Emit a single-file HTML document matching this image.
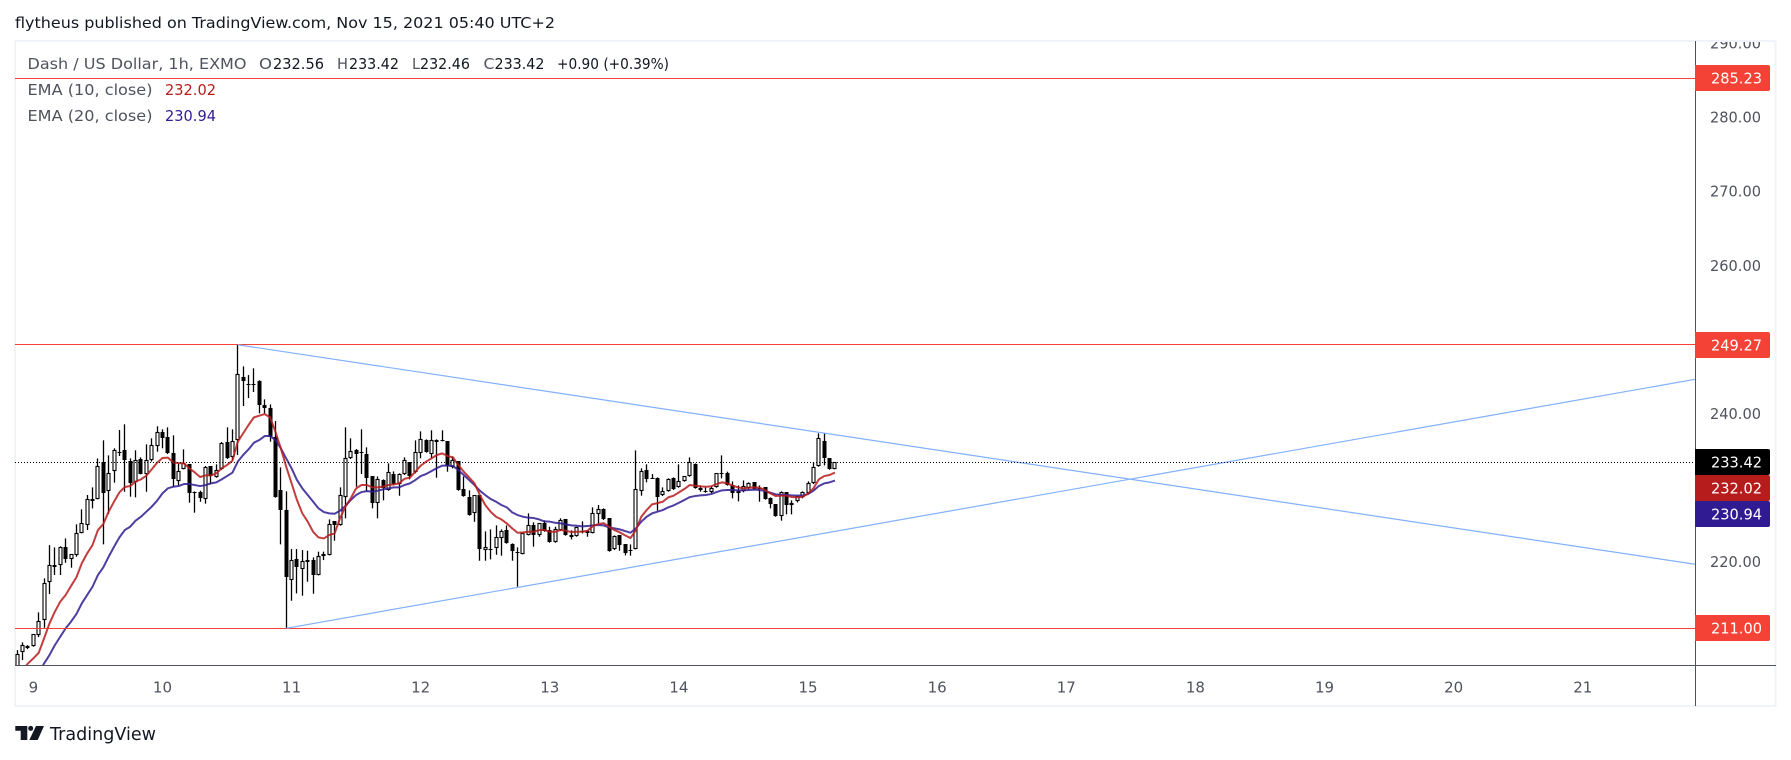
<!DOCTYPE html>
<html lang="en">
<head>
<meta charset="utf-8">
<title>Dash / US Dollar chart</title>
<style>
html,body{margin:0;padding:0;background:#fff;width:1791px;height:760px;overflow:hidden}
svg{display:block}
text{font-family:"DejaVu Sans","Liberation Sans",sans-serif}
</style>
</head>
<body>
<svg id="chart" width="1791" height="760" viewBox="0 0 1791 760" xmlns="http://www.w3.org/2000/svg">
  <defs>
    <clipPath id="plot-clip"><rect x="15" y="42" width="1680" height="623"></rect></clipPath>
    <clipPath id="axis-clip"><rect x="1696" y="42" width="79" height="623"></rect></clipPath>
  </defs>
  <rect x="0" y="0" width="1791" height="760" fill="#ffffff"></rect>
  <text x="15" y="28" font-size="15" fill="#131722" textLength="540" lengthAdjust="spacingAndGlyphs">flytheus published on TradingView.com, Nov 15, 2021 05:40 UTC+2</text>
  <rect x="15" y="41" width="1760.5" height="665" fill="none" stroke="#f0f3fa" stroke-width="2"></rect>
  <g id="plot" clip-path="url(#plot-clip)"></g>
  <g id="axis-ticks" clip-path="url(#axis-clip)"></g>
  <line x1="15" y1="665.5" x2="1776" y2="665.5" stroke="#50535e" stroke-width="1"></line>
  <line x1="1695.5" y1="41" x2="1695.5" y2="706" stroke="#50535e" stroke-width="1"></line>
  <g id="price-labels"></g>
  <g id="time-ticks"></g>

  <g font-size="15">
    <text x="27.5" y="69" fill="#50535e" textLength="219" lengthAdjust="spacingAndGlyphs">Dash / US Dollar, 1h, EXMO</text>
    <text x="259" y="69" fill="#50535e" textLength="13" lengthAdjust="spacingAndGlyphs">O</text>
    <text x="273" y="69" fill="#131722" textLength="51" lengthAdjust="spacingAndGlyphs">232.56</text>
    <text x="337" y="69" fill="#50535e" textLength="11" lengthAdjust="spacingAndGlyphs">H</text>
    <text x="349" y="69" fill="#131722" textLength="50" lengthAdjust="spacingAndGlyphs">233.42</text>
    <text x="412" y="69" fill="#50535e" textLength="8" lengthAdjust="spacingAndGlyphs">L</text>
    <text x="420" y="69" fill="#131722" textLength="50" lengthAdjust="spacingAndGlyphs">232.46</text>
    <text x="483.5" y="69" fill="#50535e" textLength="11" lengthAdjust="spacingAndGlyphs">C</text>
    <text x="494.5" y="69" fill="#131722" textLength="50" lengthAdjust="spacingAndGlyphs">233.42</text>
    <text x="557" y="69" fill="#131722" textLength="112" lengthAdjust="spacingAndGlyphs">+0.90 (+0.39%)</text>
    <text x="27.5" y="95" fill="#50535e" textLength="125" lengthAdjust="spacingAndGlyphs">EMA (10, close)</text>
    <text x="165" y="95" fill="#b71c1c" textLength="51" lengthAdjust="spacingAndGlyphs">232.02</text>
    <text x="27.5" y="121" fill="#50535e" textLength="125" lengthAdjust="spacingAndGlyphs">EMA (20, close)</text>
    <text x="165" y="121" fill="#311b92" textLength="51" lengthAdjust="spacingAndGlyphs">230.94</text>
  </g>

  <g>
    <path d="M15.3 726H27.3V740H20.7V730.7H15.3Z" fill="#131722"></path>
    <circle cx="30.7" cy="728.4" r="2.5" fill="#131722"></circle>
    <path d="M36 726H44L37.7 740H29.3Z" fill="#131722"></path>
    <text x="50" y="740" font-size="18" fill="#131722" textLength="106" lengthAdjust="spacingAndGlyphs">TradingView</text>
  </g>
</svg>
<script>
const opens = [205.72,207.75,208.55,208.55,210.09,212.07,217.20,219.49,219.49,221.92,220.30,220.93,223.81,224.89,228.40,228.40,233.39,229.48,232.18,234.79,235.02,233.53,230.70,233.80,231.78,233.67,235.56,237.45,236.77,234.61,230.83,232.54,233.13,229.43,229.34,228.40,232.86,231.37,232.50,236.09,234.07,236.37,244.87,243.93,243.97,244.33,241.09,240.69,236.77,229.62,226.92,217.47,220.30,218.95,220.17,220.17,218.14,220.70,220.84,225.43,224.89,228.67,233.94,235.02,234.75,234.48,231.50,227.86,230.97,229.62,231.78,230.43,231.78,233.40,232.05,234.61,236.36,234.48,236.36,236.36,236.23,232.72,233.53,229.75,228.67,226.51,228.94,221.51,221.65,221.78,223.13,224.22,222.33,221.25,220.98,223.54,224.89,223.54,225.16,224.22,222.59,224.22,225.70,223.54,223.41,224.08,224.08,223.81,226.38,227.05,225.84,221.65,223.54,222.32,221.52,221.65,229.48,232.32,231.24,231.24,228.94,229.48,231.24,230.02,230.83,231.51,233.13,229.89,229.48,229.35,230.02,231.91,231.91,230.29,229.21,229.48,229.89,230.70,229.89,230.02,228.54,227.73,226.11,229.35,227.59,228.13,228.67,229.21,230.56,232.86,236.23,233.94,232.56];
const highs = [208.06,209.10,208.73,210.22,213.15,217.73,222.23,221.92,222.06,223.13,220.98,225.03,227.05,228.99,230.02,233.93,236.37,234.34,235.29,237.76,238.53,233.93,235.02,234.07,235.82,236.64,238.26,237.85,238.12,237.04,233.26,235.15,233.13,229.48,229.57,232.90,232.86,233.13,236.14,238.12,237.85,249.28,246.35,245.18,246.09,244.47,241.90,241.22,238.97,232.72,229.48,221.70,221.70,221.56,221.47,220.57,221.34,221.34,225.70,225.43,230.02,238.12,236.64,235.20,237.85,235.42,231.50,231.50,231.10,233.26,232.18,231.91,234.07,233.40,236.36,237.58,236.50,237.72,236.50,237.72,236.23,234.20,233.53,231.50,229.62,228.94,228.94,224.08,224.35,224.89,224.35,224.89,222.46,221.92,223.81,226.51,225.30,225.16,225.57,224.71,224.71,225.84,225.70,224.22,224.71,225.43,224.22,227.32,227.64,227.19,225.84,223.54,223.54,222.32,222.32,235.01,232.59,233.13,231.82,231.37,230.02,231.24,231.37,233.13,231.55,234.07,233.26,230.29,230.02,230.16,231.96,234.34,232.14,230.83,230.29,230.96,230.70,230.70,230.29,230.02,228.67,227.73,229.48,229.35,228.27,228.94,229.48,230.83,233.40,237.31,237.31,233.94,233.42];
const lows = [205.36,206.71,208.19,208.51,209.82,211.07,215.62,218.19,218.19,219.85,219.18,220.66,223.81,224.26,227.18,228.40,222.33,226.42,230.65,234.25,229.43,228.76,228.67,231.78,229.43,233.49,234.84,235.29,234.52,230.11,230.29,232.45,227.95,226.60,228.08,227.82,230.43,231.33,232.36,233.85,233.71,234.39,241.00,242.08,242.89,240.01,240.01,236.19,228.63,222.33,211.00,214.72,215.71,215.40,217.29,215.67,218.14,220.21,220.84,222.82,224.85,225.84,233.85,230.11,231.82,229.44,227.19,225.84,228.27,229.57,230.29,228.89,231.69,231.10,231.91,233.94,234.70,233.94,231.33,236.23,232.14,232.59,229.57,228.76,226.20,225.38,220.12,220.12,220.30,220.93,220.80,222.42,220.12,216.61,220.98,223.54,222.01,223.36,224.03,222.55,222.55,224.17,223.50,223.00,223.36,223.81,223.36,223.81,225.16,225.61,221.34,221.56,221.47,220.84,220.80,221.65,228.90,230.70,231.19,226.87,228.85,229.44,229.66,229.98,230.79,231.46,229.84,229.44,229.30,229.21,229.98,231.24,230.25,228.54,228.13,229.35,229.75,229.71,228.09,228.36,227.19,226.06,225.52,226.38,226.38,227.99,228.54,229.12,230.47,232.81,232.99,232.41,232.46];
const closes = [207.47,208.69,208.38,210.18,211.93,217.06,219.49,219.31,221.92,220.30,220.98,223.81,225.16,228.40,228.13,232.86,229.21,231.91,235.02,234.66,233.76,230.56,233.67,231.82,233.67,235.69,237.45,236.64,234.61,231.10,232.18,233.26,229.21,229.21,228.53,232.72,231.51,232.32,235.96,233.93,236.23,245.28,244.33,243.79,243.88,241.09,240.78,236.86,228.67,226.92,217.87,220.17,219.31,220.03,219.99,218.23,220.70,220.98,225.02,224.98,228.94,233.94,234.88,234.48,234.61,231.24,227.95,231.10,229.89,232.05,230.43,231.78,233.66,231.50,234.75,236.50,234.75,236.36,236.09,236.23,232.86,233.66,229.62,228.80,226.24,228.94,221.65,221.92,221.56,223.27,224.08,222.46,221.38,221.11,223.81,224.89,223.54,225.16,224.08,222.59,224.35,225.57,223.54,223.27,224.62,223.99,223.81,226.51,227.05,225.70,221.38,223.40,222.19,221.11,221.38,229.75,232.18,231.10,231.19,228.76,229.48,231.10,229.75,230.83,231.51,233.40,229.89,229.62,229.35,229.89,231.91,231.78,230.29,229.21,229.48,230.16,230.56,229.75,229.75,228.40,227.73,226.11,229.35,227.59,227.86,228.80,229.35,230.56,232.72,236.63,233.94,232.45,233.42];
const ema10 = [204.46,205.36,206.26,206.94,207.70,209.64,211.66,213.24,214.59,215.49,216.70,217.87,219.76,221.11,222.23,224.26,225.07,226.74,228.09,229.35,230.07,230.20,230.79,231.10,231.60,232.45,233.35,233.98,234.03,233.39,233.30,233.26,232.58,232.05,231.42,231.64,231.64,231.91,232.58,233.03,233.62,236.19,237.31,238.44,239.47,239.70,239.92,239.47,237.54,235.29,232.81,230.56,228.31,226.51,225.39,224.03,223.27,223.13,223.59,223.81,225.84,227.41,228.54,229.89,230.34,230.34,230.02,230.02,230.11,230.34,230.43,230.56,231.19,231.33,232.14,232.95,233.49,233.94,234.39,234.61,234.25,234.07,233.04,232.14,231.37,230.56,228.98,227.64,226.73,226.06,225.70,225.16,224.49,223.90,223.95,224.03,224.03,224.26,224.26,224.03,224.03,224.26,224.17,223.99,224.03,224.03,224.17,224.80,225.07,225.20,224.71,224.26,223.95,223.54,223.18,224.26,226.06,226.96,227.73,227.90,228.08,228.67,228.90,229.35,229.80,230.34,230.25,230.16,230.11,230.16,230.47,230.70,230.56,230.25,230.02,229.89,229.98,230.02,229.98,229.66,229.21,228.85,228.90,228.90,228.72,228.67,228.76,229.17,229.89,231.10,231.55,231.69,232.02];
const ema20 = [201.76,202.44,203.20,204.01,205.00,206.26,207.39,208.73,209.86,210.99,211.89,212.92,214.36,215.49,216.61,218.19,219.22,220.66,222.01,223.27,224.26,224.71,225.52,226.06,226.74,227.41,228.22,229.21,229.89,230.11,230.20,230.47,230.47,230.33,230.20,230.33,230.56,230.70,231.10,231.55,232.00,233.49,234.39,235.15,236.05,236.41,236.95,236.95,236.41,235.29,233.93,232.59,231.01,229.89,228.99,228.09,227.19,226.69,226.51,226.46,226.87,227.50,228.31,228.99,229.39,229.52,229.44,229.57,229.75,229.89,230.02,230.02,230.34,230.56,231.01,231.55,231.82,232.22,232.63,232.95,232.95,232.90,232.36,231.69,231.01,230.34,229.57,228.99,228.45,228.09,227.64,227.32,226.65,226.29,226.06,225.93,225.88,225.70,225.43,225.39,225.25,225.16,225.03,224.89,224.85,224.76,224.80,224.89,224.94,224.89,224.62,224.49,224.35,224.13,223.90,224.49,225.39,226.06,226.51,226.74,226.96,227.32,227.59,227.95,228.31,228.71,228.85,228.94,228.99,229.12,229.39,229.62,229.66,229.66,229.62,229.62,229.66,229.71,229.66,229.53,229.30,229.08,229.03,228.99,228.94,228.90,228.94,229.12,229.57,230.20,230.56,230.70,230.94];
const priceTicks = [290,280,270,260,250,240,230,220];
const dayLabels = ["9","10","11","12","13","14","15","16","17","18","19","20","21"];
const levelPrices = [285.23,249.27,211.00];
const trendStartBar = [41,50];
const trendStartPrice = [249.27,211.00];
const trendEndBar = [311.9,311.9];
const trendEndPrice = [219.64,244.61];
const lastPrice = 233.42;
const labelPrices = [285.23,249.27,233.42,232.02,230.94,211.00];
const labelKinds = ["level","level","last","ema10","ema20","level"];

const SVGNS = "http://www.w3.org/2000/svg";
const colors = {level:"#f44336", last:"#000000", ema10:"#b71c1c", ema20:"#311b92", trend:"#82b1ff"};
function xScale(bar){ return 17.2 + 5.38 * bar; }
function yScale(price){ return 628.3 - (price - 211) * 7.409; }
function snap(v){ return Math.round(v - 0.5) + 0.5; }
function make(tag, attrs){
  const el = document.createElementNS(SVGNS, tag);
  for (const k in attrs) el.setAttribute(k, attrs[k]);
  return el;
}
const plot = document.getElementById("plot");

opens.forEach(function(open, i){
  const close = closes[i];
  const cx = snap(xScale(i));
  const up = close >= open;
  const top = yScale(Math.max(open, close));
  const bottom = yScale(Math.min(open, close));
  const g = make("g", {});
  
  
  const wick = make("line", {x1:cx, x2:cx, y1:yScale(highs[i]), y2:yScale(lows[i]), stroke:"#000", "stroke-width":1.3});
  
  
  g.appendChild(wick);
  const t = Math.round(top), b = Math.max(Math.round(bottom), t + 1);
  const body = up
    ? make("rect", {x:cx - 1.5, y:t + 0.5, width:3, height:Math.max(b - t - 1, 0.5), fill:"#fff", stroke:"#000", "stroke-width":1.1})
    : make("rect", {x:cx - 2, y:t, width:4, height:b - t, fill:"#000"});
  
  
  g.appendChild(body);
  plot.appendChild(g);
});

function emaPath(values){
  return values.map(function(v, i){
    return (i ? "L" : "M") + xScale(i).toFixed(2) + " " + yScale(v).toFixed(2);
  }).join("");
}
const ema10Line = make("path", {d:emaPath(ema10), fill:"none", stroke:colors.ema10, "stroke-width":2, "stroke-opacity":0.85, "stroke-linejoin":"round"});


const ema20Line = make("path", {d:emaPath(ema20), fill:"none", stroke:colors.ema20, "stroke-width":2, "stroke-opacity":0.85, "stroke-linejoin":"round"});


plot.appendChild(ema20Line);
plot.appendChild(ema10Line);

levelPrices.forEach(function(p){
  const y = snap(yScale(p));
  const line = make("line", {x1:15, x2:1695, y1:y, y2:y, stroke:colors.level, "stroke-width":1});
  
  
  plot.appendChild(line);
});

trendStartBar.forEach(function(startBar, k){
  const line = make("line", {x1:xScale(startBar), y1:yScale(trendStartPrice[k]), x2:xScale(trendEndBar[k]), y2:yScale(trendEndPrice[k]), stroke:colors.trend, "stroke-width":1.2});
  
  
  plot.appendChild(line);
});

const lastY = snap(yScale(lastPrice));
const lastLine = make("line", {x1:15, x2:1693, y1:lastY, y2:lastY, stroke:"#000", "stroke-width":1, "stroke-dasharray":"1 2"});


plot.appendChild(lastLine);

const axisTicks = document.getElementById("axis-ticks");
priceTicks.forEach(function(p){
  const t = make("text", {x:1761, y:yScale(p) + 5.5, "text-anchor":"end", "font-size":15, fill:"#50535e", textLength:51, lengthAdjust:"spacingAndGlyphs"});
  
  
  t.textContent = p.toFixed(2);
  axisTicks.appendChild(t);
});

const timeTicks = document.getElementById("time-ticks");
dayLabels.forEach(function(label, k){
  const t = make("text", {x:xScale(3 + 24 * k), y:692.5, "text-anchor":"middle", "font-size":15, fill:"#50535e"});
  
  
  t.textContent = label;
  timeTicks.appendChild(t);
});

const priceLabels = document.getElementById("price-labels");
let previousCenter = -100;
labelPrices.forEach(function(p, i){
  const h = 26;
  const center = Math.max(yScale(p), previousCenter + h);
  previousCenter = center;
  const top = Math.round(center - h / 2);
  const r = 2, x0 = 1695, x1 = 1770;
  const bg = make("path", {d:"M" + x0 + " " + top + "H" + (x1 - r) + "Q" + x1 + " " + top + " " + x1 + " " + (top + r) + "V" + (top + h - r) + "Q" + x1 + " " + (top + h) + " " + (x1 - r) + " " + (top + h) + "H" + x0 + "Z", fill:colors[labelKinds[i]]});
  
  
  priceLabels.appendChild(bg);
  const t = make("text", {x:1762, y:top + 18.5, "text-anchor":"end", "font-size":15, fill:"#ffffff", textLength:51, lengthAdjust:"spacingAndGlyphs"});
  
  
  t.textContent = p.toFixed(2);
  priceLabels.appendChild(t);
});
</script>
</body>
</html>
